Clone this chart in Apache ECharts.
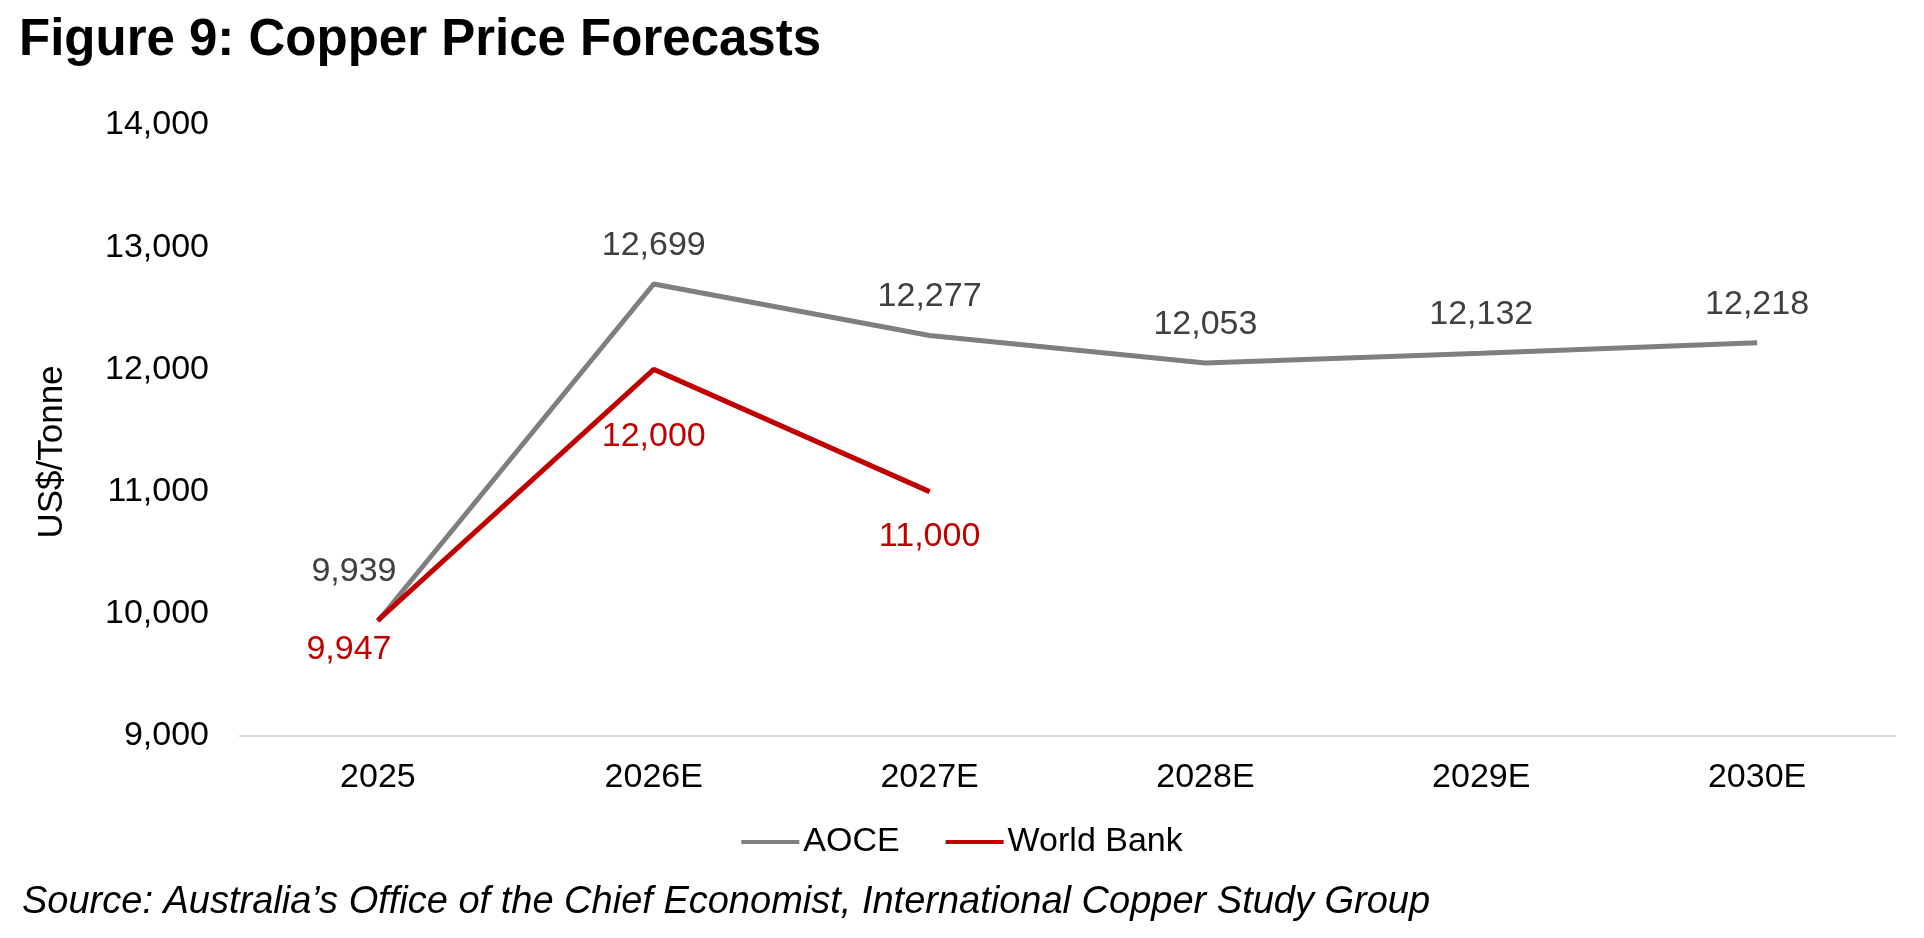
<!DOCTYPE html>
<html>
<head>
<meta charset="utf-8">
<script src="https://cdn.jsdelivr.net/npm/echarts@6/dist/echarts.min.js"></script>
<style>
  html, body { margin: 0; padding: 0; background: #fff; }
  #chart { width: 1924px; height: 938px; }
</style>
</head>
<body>
<div id="chart"></div>
<script>
// chart values
const years = ['2025', '2026E', '2027E', '2028E', '2029E', '2030E'];
const aoce = [9939, 12699, 12277, 12053, 12132, 12218];
const worldBank = [9947, 12000, 11000, null, null, null];

const FONT = '"Liberation Sans", Arial, sans-serif';
const fmt = v => Number(v).toLocaleString('en-US');

// a few labels sit off their default spot in the original
const aoceLabelOffset = { 0: [-24, -11] };
const wbLabelOffset = { 0: [-29, 0], 1: [0, 38], 2: [0, 16] };

function withOffsets(values, offsets) {
  return values.map((v, i) => offsets[i] ? { value: v, label: { offset: offsets[i] } } : v);
}

const chart = echarts.init(document.getElementById('chart'), null, { renderer: 'canvas' });

chart.setOption({
  animation: false,
  textStyle: { fontFamily: FONT },
  title: {
    text: 'Figure 9: Copper Price Forecasts',
    left: 14, top: 10,
    textStyle: { fontFamily: FONT, fontSize: 51, fontWeight: 'bold', color: '#000' }
  },
  grid: { left: 240, right: 29, top: 125, bottom: 202 },
  legend: {
    bottom: 74, left: 'center',
    itemWidth: 58, itemHeight: 4, itemGap: 46,
    icon: 'rect',
    textStyle: { fontFamily: FONT, fontSize: 34, color: '#000', padding: [0, 0, 0, -1] },
    data: ['AOCE', 'World Bank']
  },
  xAxis: {
    type: 'category',
    data: years,
    boundaryGap: true,
    axisLine: { lineStyle: { color: '#d9d9d9', width: 2 } },
    axisTick: { show: false },
    axisLabel: { margin: 25, fontFamily: FONT, fontSize: 34, color: '#000' }
  },
  yAxis: {
    type: 'value',
    min: 9000, max: 14000, interval: 1000,
    axisLine: { show: false },
    axisTick: { show: false },
    splitLine: { show: false },
    axisLabel: {
      margin: 31, fontFamily: FONT, fontSize: 34, color: '#000',
      formatter: fmt
    }
  },
  graphic: [
    {
      type: 'text', left: 22, top: 883,
      style: {
        text: 'Source: Australia\u2019s Office of the Chief Economist, International Copper Study Group',
        font: 'italic 38px ' + FONT, fill: '#000'
      }
    },
    {
      type: 'text', x: 52, y: 452, rotation: Math.PI / 2,
      style: {
        text: 'US$/Tonne', font: '35px ' + FONT, fill: '#000',
        align: 'center', verticalAlign: 'middle'
      }
    }
  ],
  series: [
    {
      name: 'AOCE', type: 'line',
      data: withOffsets(aoce, aoceLabelOffset),
      symbol: 'circle', symbolSize: 1, showSymbol: true,
      itemStyle: { color: '#7f7f7f' },
      lineStyle: { color: '#7f7f7f', width: 5 },
      label: {
        show: true, position: 'top', distance: 21,
        fontFamily: FONT, fontSize: 34, color: '#404040',
        formatter: p => fmt(p.value)
      }
    },
    {
      name: 'World Bank', type: 'line',
      data: withOffsets(worldBank, wbLabelOffset),
      symbol: 'circle', symbolSize: 1, showSymbol: true,
      itemStyle: { color: '#c00000' },
      lineStyle: { color: '#c00000', width: 5 },
      label: {
        show: true, position: 'bottom', distance: 12,
        fontFamily: FONT, fontSize: 34, color: '#c00000',
        formatter: p => fmt(p.value)
      }
    }
  ]
});
</script>
</body>
</html>
